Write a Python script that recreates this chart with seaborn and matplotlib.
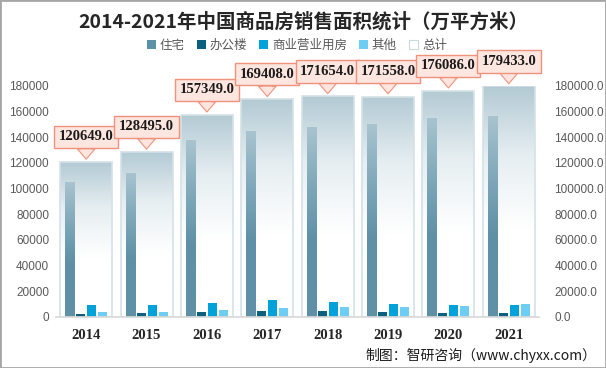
import numpy as np
import pandas as pd
import matplotlib
matplotlib.use('Agg')
import matplotlib.pyplot as plt
import seaborn as sns
from matplotlib.colors import LinearSegmentedColormap
from matplotlib.patches import Patch, Rectangle

# Dados (万平方米)
years = ['2014', '2015', '2016', '2017', '2018', '2019', '2020', '2021']
residential = [105188, 112412, 137540, 144789, 147929, 150144, 154878, 156532]
office = [2498, 2913, 3826, 4756, 4363, 3723, 3334, 3375]
commercial = [9075, 9220, 10872, 12838, 11971, 10173, 9288, 9112]
other = [3888, 3950, 5111, 7025, 7391, 7518, 8586, 10414]
totals = [120649.0, 128495.0, 157349.0, 169408.0, 171654.0, 171558.0, 176086.0, 179433.0]
series_names = ['住宅', '办公楼', '商业营业用房', '其他']
total_name = '总计'
y_ticks = list(range(0, 180001, 20000))

colors = ['#5e90a6', '#0b5f7f', '#00a2d9', '#6dcdf3']

sns.set_theme(style='white')
plt.rcParams['font.family'] = ['Noto Sans CJK SC', 'DejaVu Sans']

df = pd.DataFrame({
    'year': np.repeat(years, 4),
    'series': series_names * len(years),
    'value': np.ravel(np.column_stack([residential, office, commercial, other])),
})
df_total = pd.DataFrame({'year': years, 'value': totals})

fig = plt.figure(figsize=(6.06, 3.68), dpi=100)
ax = fig.add_axes([0.0924, 0.1386, 0.797, 0.6285])

# Barras do total (fundo)
sns.barplot(data=df_total, x='year', y='value', color='#c5d7de', width=0.86,
            saturation=1, edgecolor='#d4e2e8', linewidth=1.2, ax=ax, zorder=1)
# Barras das séries
sns.barplot(data=df, x='year', y='value', hue='series', hue_order=series_names,
            palette=colors, width=0.73, gap=0.18, saturation=1, linewidth=0,
            legend=False, ax=ax, zorder=2)


def fill_gradient(patch, cols, stops, z):
    x0, y0 = patch.get_x(), patch.get_y()
    w, h = patch.get_width(), patch.get_height()
    cmap = LinearSegmentedColormap.from_list('g', list(zip(stops, cols)))
    grad = np.linspace(0, 1, 256).reshape(-1, 1)
    im = ax.imshow(grad, cmap=cmap, extent=[x0, x0 + w, y0, y0 + h], aspect='auto',
                   origin='upper', zorder=z, vmin=0, vmax=1, interpolation='bilinear')
    im.set_clip_path(patch)


for p in ax.containers[0]:
    fill_gradient(p, ['#b3cad4', '#e6eef1', '#ffffff', '#ffffff'], [0, 0.3, 0.62, 1], 0.9)
    p.set_facecolor('none')
for p in ax.containers[1]:
    fill_gradient(p, ['#a9c4cf', '#80a9ba', '#5e90a6', '#5e90a6'], [0, 0.3, 0.6, 1], 2.1)

ax.set_xlim(-0.5, len(years) - 0.5)
ax.set_ylim(0, 180000)
ax.set_yticks(y_ticks)
ax.set_yticklabels([str(v) for v in y_ticks], color='#595959', fontsize=8.5,
                   family=['Liberation Sans'])
ax.set_xlabel('')
ax.set_ylabel('')
ax.tick_params(axis='x', length=0, pad=9)
ax.tick_params(axis='y', length=0, pad=5)
for lab in ax.get_xticklabels():
    lab.set_fontfamily('Liberation Serif')
    lab.set_fontweight('bold')
    lab.set_fontsize(10.5)
    lab.set_color('#262626')
for s in ['left', 'right', 'top']:
    ax.spines[s].set_visible(False)
ax.spines['bottom'].set_color('#d9d9d9')

ax2 = ax.twinx()
ax2.set_ylim(0, 180000)
ax2.set_yticks(y_ticks)
ax2.set_yticklabels([f'{v:.1f}' for v in y_ticks], color='#595959', fontsize=8.5,
                    family=['Liberation Sans'])
ax2.tick_params(axis='y', length=0, pad=11)
for s in ax2.spines.values():
    s.set_visible(False)

# Rótulos em caixas com seta
for i, t in enumerate(totals):
    ax.annotate(f'{t:.1f}', xy=(i, t), xytext=(0, 18), textcoords='offset points',
                ha='center', va='center', fontsize=10.5, fontweight='bold',
                family='Liberation Serif', color='#1a1a1a', annotation_clip=False, zorder=5,
                bbox=dict(boxstyle='square,pad=0.32', fc='#fde6df', ec='#f0927b', lw=1),
                arrowprops=dict(arrowstyle='simple,head_length=0.7,head_width=1.2,tail_width=0.7',
                                fc='#fde6df', ec='#f0927b', lw=0.8, shrinkA=0, shrinkB=2))

fig.text(0.5, 0.94, '2014-2021年中国商品房销售面积统计（万平方米）', ha='center', va='center',
         fontsize=14, fontweight='bold', color='#262626')

handles = [Patch(fc=c, ec='none') for c in colors] + [Patch(fc='white', ec='#c9d9e0', lw=0.8)]
fig.legend(handles, series_names + [total_name], loc='center', bbox_to_anchor=(0.49, 0.877),
           ncol=5, frameon=False, fontsize=9, handlelength=0.7, handleheight=0.7,
           handletextpad=0.3, columnspacing=1.0, labelcolor='#595959')

fig.text(0.985, 0.035, '制图：智研咨询（www.chyxx.com）', ha='right', va='center',
         fontsize=10, color='#1a1a1a')

fig.patches.append(Rectangle((0, 0), 1, 1, transform=fig.transFigure, fill=False,
                             ec='#a6a6a6', lw=2))

fig.savefig('out.png', dpi=100)
